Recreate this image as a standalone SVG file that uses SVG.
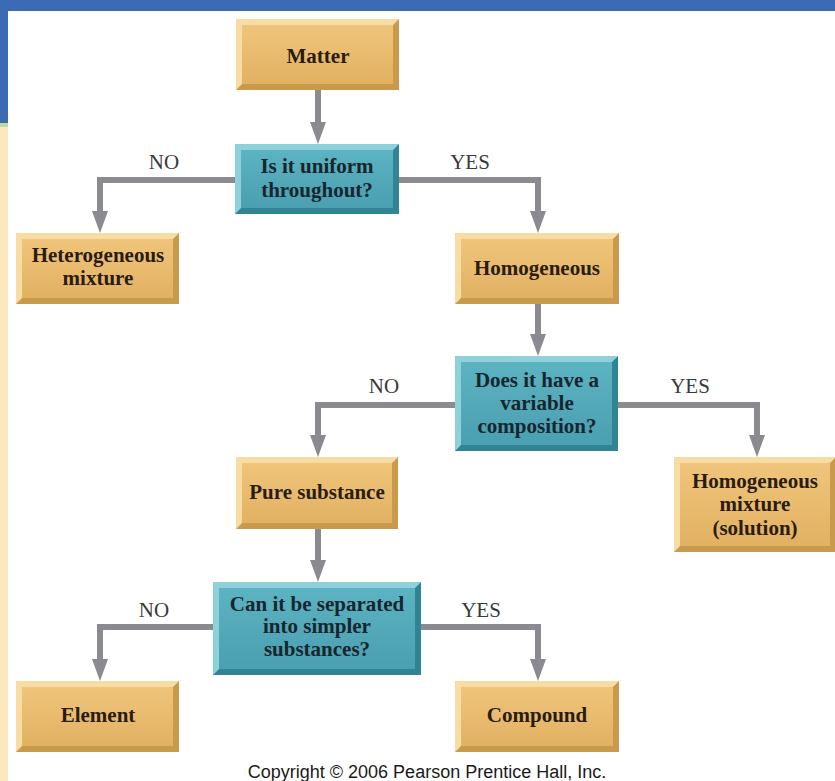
<svg xmlns="http://www.w3.org/2000/svg" width="835" height="781" viewBox="0 0 835 781">
<defs>
<linearGradient id="gTan" x1="0" y1="0" x2="0" y2="1">
<stop offset="0" stop-color="#efc57b"/>
<stop offset="1" stop-color="#e2b162"/>
</linearGradient>
<linearGradient id="gTeal" x1="0" y1="0" x2="0" y2="1">
<stop offset="0" stop-color="#5cb3c1"/>
<stop offset="1" stop-color="#4a9fb0"/>
</linearGradient>
<marker id="arr" markerUnits="userSpaceOnUse" markerWidth="24" markerHeight="18" refX="2" refY="8" orient="auto" viewBox="0 0 24 18">
<path d="M0,0 L0,16 L22,8 Z" fill="#8a8a90"/>
</marker>
</defs>
<style>
.bg{fill:#ffffff}
.tanEdge{fill:#c99a4c}
.tanHi{fill:#f7dca3}
.tanIn{fill:url(#gTan)}
.tealEdge{fill:#2f8594}
.tealHi{fill:#8fd1db}
.tealIn{fill:url(#gTeal)}
.t{font-family:"Liberation Serif","Times New Roman",serif;font-weight:bold;font-size:21px;text-anchor:middle;fill:#2a1c10}
.tq{font-family:"Liberation Serif","Times New Roman",serif;font-weight:bold;font-size:21px;text-anchor:middle;fill:#17262e}
.lbl{font-family:"Liberation Serif","Times New Roman",serif;font-size:21px;text-anchor:middle;fill:#3a3a3a}
.conn{fill:none;stroke:#8a8a90;stroke-width:6;stroke-linejoin:miter}
.copy{font-family:"Liberation Sans",Arial,sans-serif;font-size:18px;text-anchor:middle;fill:#1a1a1a}
</style>
<rect class="bg" x="0" y="0" width="835" height="781"/>
<rect x="0" y="0" width="835" height="11" fill="#3a6bb4"/>
<rect x="0" y="0" width="8" height="123" fill="#3a6bb4"/>
<rect x="0" y="123" width="8" height="4" fill="#b9dc9c"/>
<rect x="0" y="127" width="8" height="654" fill="#fde7bf"/>

<g id="connectors">
<path class="conn" d="M318,90 V124" marker-end="url(#arr)"/>
<path class="conn" d="M235,180 H100 V213" marker-end="url(#arr)"/>
<path class="conn" d="M399,180 H538 V213" marker-end="url(#arr)"/>
<path class="conn" d="M538,304 V336" marker-end="url(#arr)"/>
<path class="conn" d="M455,405 H318 V437" marker-end="url(#arr)"/>
<path class="conn" d="M618,405 H757 V437" marker-end="url(#arr)"/>
<path class="conn" d="M318,529 V562" marker-end="url(#arr)"/>
<path class="conn" d="M213,627 H100 V661" marker-end="url(#arr)"/>
<path class="conn" d="M421,627 H538 V661" marker-end="url(#arr)"/>
<text class="lbl" x="164" y="169">NO</text>
<text class="lbl" x="470" y="169">YES</text>
<text class="lbl" x="384" y="393">NO</text>
<text class="lbl" x="690" y="393">YES</text>
<text class="lbl" x="154" y="617">NO</text>
<text class="lbl" x="481" y="617">YES</text>
</g>

<g id="matter">
<rect class="tanEdge" x="236" y="19" width="163" height="71"/>
<polygon class="tanHi" points="236,19 399,19 393,25 242,25 242,84 236,90"/>
<rect class="tanIn" x="242" y="25" width="151" height="59"/>
<text class="t" x="318" y="63">Matter</text>
</g>

<g id="uniform">
<rect class="tealEdge" x="235" y="144" width="164" height="70"/>
<polygon class="tealHi" points="235,144 399,144 393,150 241,150 241,208 235,214"/>
<rect class="tealIn" x="241" y="150" width="152" height="58"/>
<text class="tq" x="317" y="173">Is it uniform</text>
<text class="tq" x="317" y="197">throughout?</text>
</g>

<g id="heterogeneous">
<rect class="tanEdge" x="16" y="233" width="163" height="71"/>
<polygon class="tanHi" points="16,233 179,233 173,239 22,239 22,298 16,304"/>
<rect class="tanIn" x="22" y="239" width="151" height="59"/>
<text class="t" x="98" y="262">Heterogeneous</text>
<text class="t" x="98" y="285">mixture</text>
</g>

<g id="homogeneous">
<rect class="tanEdge" x="455" y="233" width="164" height="71"/>
<polygon class="tanHi" points="455,233 619,233 613,239 461,239 461,298 455,304"/>
<rect class="tanIn" x="461" y="239" width="152" height="59"/>
<text class="t" x="537" y="275">Homogeneous</text>
</g>

<g id="variable">
<rect class="tealEdge" x="455" y="356" width="163" height="95"/>
<polygon class="tealHi" points="455,356 618,356 612,362 461,362 461,445 455,451"/>
<rect class="tealIn" x="461" y="362" width="151" height="83"/>
<text class="tq" x="537" y="387">Does it have a</text>
<text class="tq" x="537" y="410">variable</text>
<text class="tq" x="537" y="433">composition?</text>
</g>

<g id="pure">
<rect class="tanEdge" x="236" y="457" width="162" height="72"/>
<polygon class="tanHi" points="236,457 398,457 392,463 242,463 242,523 236,529"/>
<rect class="tanIn" x="242" y="463" width="150" height="60"/>
<text class="t" x="317" y="499">Pure substance</text>
</g>

<g id="solution">
<rect class="tanEdge" x="674" y="457" width="162" height="95"/>
<polygon class="tanHi" points="674,457 836,457 830,463 680,463 680,546 674,552"/>
<rect class="tanIn" x="680" y="463" width="150" height="83"/>
<text class="t" x="755" y="488">Homogeneous</text>
<text class="t" x="755" y="511">mixture</text>
<text class="t" x="755" y="535">(solution)</text>
</g>

<g id="separate">
<rect class="tealEdge" x="213" y="582" width="208" height="93"/>
<polygon class="tealHi" points="213,582 421,582 415,588 219,588 219,669 213,675"/>
<rect class="tealIn" x="219" y="588" width="196" height="81"/>
<text class="tq" x="317" y="611">Can it be separated</text>
<text class="tq" x="317" y="633">into simpler</text>
<text class="tq" x="317" y="656">substances?</text>
</g>

<g id="element">
<rect class="tanEdge" x="16" y="681" width="163" height="71"/>
<polygon class="tanHi" points="16,681 179,681 173,687 22,687 22,746 16,752"/>
<rect class="tanIn" x="22" y="687" width="151" height="59"/>
<text class="t" x="98" y="722">Element</text>
</g>

<g id="compound">
<rect class="tanEdge" x="455" y="681" width="164" height="71"/>
<polygon class="tanHi" points="455,681 619,681 613,687 461,687 461,746 455,752"/>
<rect class="tanIn" x="461" y="687" width="152" height="59"/>
<text class="t" x="537" y="722">Compound</text>
</g>

<text class="copy" x="427" y="778">Copyright © 2006 Pearson Prentice Hall, Inc.</text>
</svg>
